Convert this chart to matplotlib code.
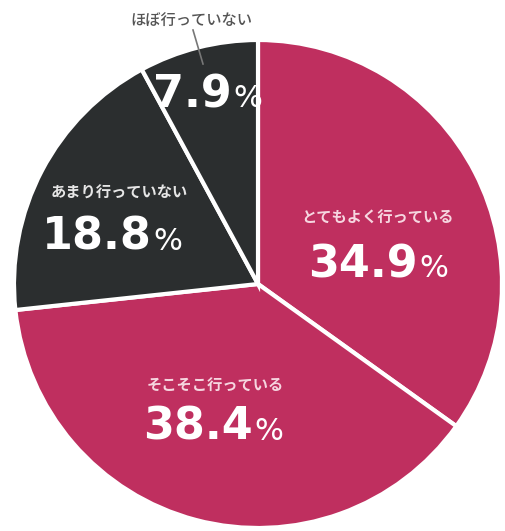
import matplotlib
matplotlib.use("Agg")
import matplotlib.pyplot as plt

# data (clockwise from 12 o'clock)
categories = ["とてもよく行っている", "そこそこ行っている", "あまり行っていない", "ほぼ行っていない"]
shares = [34.9, 38.4, 18.8, 7.9]
slice_colors = ["#BF2F5F", "#BF2F5F", "#2B2E2F", "#2B2E2F"]

W, H = 505, 531
cx, cy, r = 258, 284, 244

jp = ['Noto Sans CJK JP', 'DejaVu Sans']


def py(y):
    return H - y


fig = plt.figure(figsize=(W / 100, H / 100), dpi=100)
ax = fig.add_axes([0, 0, 1, 1])
ax.pie(shares, colors=slice_colors, startangle=90, counterclock=False,
       center=(cx, py(cy)), radius=r,
       wedgeprops=dict(edgecolor="white", linewidth=3.0))
ax.set_xlim(0, W)
ax.set_ylim(0, H)
ax.set_aspect("equal")
ax.axis("off")

# label layout: (label x center, label y, number/% split x, number baseline y, label color, weight)
layout = [
    (378, 218, 418, 277, "#F6D6E0", "bold"),
    (215, 385, 253, 440, "#F6D6E0", "bold"),
    (119, 193, 152, 250, "#E6E6E6", "bold"),
    (191, 20, 232, 107, "#555555", "medium"),
]

for cat, val, (lx, ly, sx, by, lc, fw) in zip(categories, shares, layout):
    ax.text(lx, py(ly), cat, ha="center", va="center", fontsize=11,
            family=jp, fontweight=fw, color=lc)
    ax.text(sx, py(by), f"{val:.1f}", ha="right", va="baseline",
            fontsize=32, fontweight="bold", family="DejaVu Sans", color="white")
    ax.text(sx + 1, py(by), "%", ha="left", va="baseline",
            fontsize=22, family="DejaVu Sans", color="white")

# leader line for the small slice
ax.plot([193, 203], [py(30), py(64)], color="#777777", lw=1.2)

fig.savefig("out.png", dpi=100, facecolor="white")
